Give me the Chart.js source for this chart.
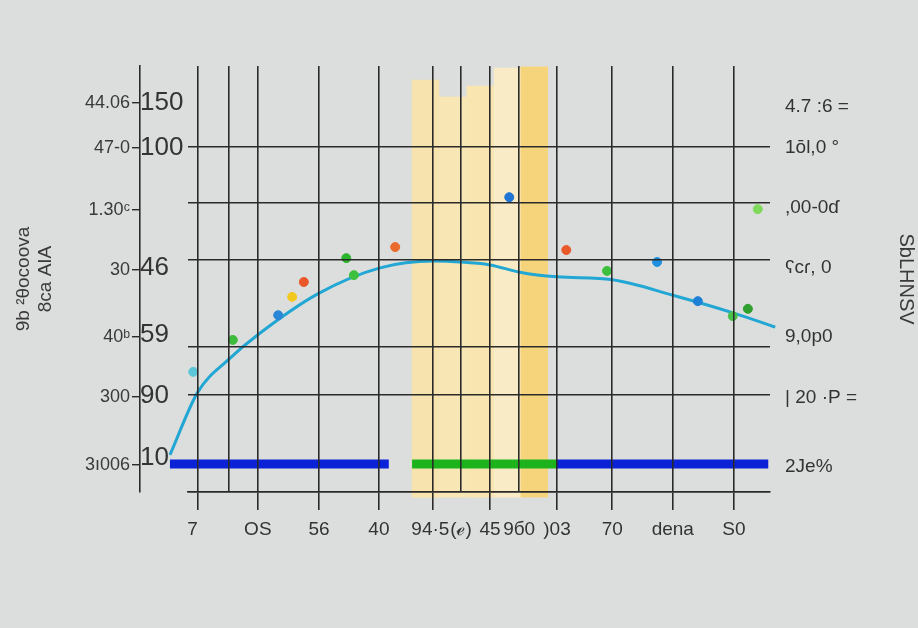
<!DOCTYPE html>
<html>
<head>
<meta charset="utf-8">
<script src="https://cdn.jsdelivr.net/npm/chart.js@4.4.1/dist/chart.umd.min.js"></script>
<style>
  html, body { margin: 0; padding: 0; background: #dcdedd; }
  #wrap { width: 918px; height: 628px; position: relative; }
</style>
</head>
<body>
<div id="wrap"><canvas id="chart"></canvas></div>
<script>
// grid / tick positions (value units, x 0-100, y 0-100)
const xGrid = [1.7, 7.0, 12.0, 22.5, 32.8, 42.1, 46.9, 51.9, 56.9, 63.4, 72.9, 83.3, 93.8];
const xLabels = ['7  ', '', 'OS', '56', '40', '94·5 ', '(ℯ)', '45', '9б0', ')03', '70', 'dena', 'S0'];
const xTickMarks = [1, 0, 1, 1, 1, 1, 0, 1, 0, 1, 1, 1, 1];
const yGrid = [0, 22.8, 34.0, 54.5, 67.8, 81.0];

const yOuterTicks = [91.3, 80.8, 66.2, 52.1, 36.4, 22.3, 6.3];
const yOuterLabels = ['44.06', '47-0', '1.30ᶜ', '30', '40ᵇ', '300', '3ı006'];
const yInnerTicks = [91.3, 80.8, 52.6, 36.9, 22.5, 8.0];
const yInnerLabels = ['150', '100', '46', '59', '90', '10'];
const yRightTicks = [90.4, 80.8, 66.7, 52.6, 36.4, 22.1, 5.9];
const yRightLabels = ['4.7 :6 =', '1ōl,0 °', ',00-0ɗ', 'ʕcɾ, 0', '9,0p0', '| 20 ·P =', '2Je%'];

const leftTitle = ['9b ²θocoova', '8ca AIA'];
const rightTitle = 'SbLHNSV';

// yellow band columns
const bandX = [40.8, 45.5, 50.2, 54.9, 59.5];
const bandTop = [96.7, 92.7, 95.3, 99.5, 99.8];
const bandBottom = -1.2;
const bandColors = ['#f7e3ad', '#f8e6b5', '#f8e5b0', '#f9ebc5', '#f6d47c'];

// cyan curve
const curveX = [-3.1, 1.7, 6.9, 12.0, 22.3, 33.0, 42.1, 46.7, 51.9, 57.0, 63.4, 72.9, 83.3, 93.8, 100.9];
const curveY = [8.7, 23.5, 31.0, 36.9, 46.5, 52.6, 54.2, 54.0, 53.3, 51.6, 50.5, 49.8, 46.2, 42.0, 38.7];

// thick baseline segments
const segStart = [-3.1, 38.5, 63.4];
const segEnd = [34.5, 63.4, 99.7];
const segLevel = 6.6;
const segColors = ['#0b22d6', '#1db31d', '#0b22d6'];

// scattered dots
const dotX = [0.9, 7.7, 15.5, 17.9, 19.9, 27.2, 28.5, 35.6, 55.2, 65.0, 72.0, 80.6, 87.6, 93.6, 96.2, 97.9];
const dotY = [28.2, 35.7, 41.5, 45.8, 49.3, 54.9, 50.9, 57.5, 69.2, 56.8, 51.9, 54.0, 44.8, 41.3, 43.0, 66.4];
const dotColors = ['#5cc6d8', '#3dbb3d', '#2a86d6', '#f2c81e', '#e9572b', '#2db42d', '#3fbf3f', '#ea6a2d',
                   '#1f74d4', '#e95a2b', '#3cbf3c', '#1e90e0', '#1d7fd6', '#49c049', '#2f9f2f', '#7fd95a'];

const ink = '#2a2a2a';
const textCol = '#333333';
const regular = '"Liberation Sans", sans-serif';

const datasets = [
    {
        type: 'scatter',
        data: dotX.map((x, i) => ({ x, y: dotY[i] })),
        pointRadius: 4.5,
        pointBackgroundColor: dotColors,
        pointBorderColor: dotColors,
        showLine: false,
        order: 0
    },
    {
        type: 'line',
        data: curveX.map((x, i) => ({ x, y: curveY[i] })),
        borderColor: '#22a7d4',
        borderWidth: 3,
        pointRadius: 0,
        cubicInterpolationMode: 'monotone',
        fill: false,
        clip: false,
        order: 1
    },
    ...segStart.map((s, i) => ({
        type: 'line',
        data: [{ x: s, y: segLevel }, { x: segEnd[i], y: segLevel }],
        borderColor: segColors[i],
        borderWidth: 9,
        borderCapStyle: 'butt',
        pointRadius: 0,
        fill: false,
        clip: false,
        order: 2
    })),
    {
        type: 'bar',
        data: bandX.map((x, i) => ({ x, y: [bandBottom, bandTop[i]] })),
        backgroundColor: bandColors,
        borderWidth: 0,
        barPercentage: 1,
        categoryPercentage: 1,
        clip: false,
        order: 3
    }
];

const fixTicks = (values) => (axis) => { axis.ticks = values.map(v => ({ value: v })); };

new Chart(document.getElementById('chart'), {
    type: 'line',
    data: { datasets },
    options: {
        responsive: true,
        maintainAspectRatio: false,
        animation: false,
        layout: { padding: { left: 8, top: 66, right: 0, bottom: 40 } },
        plugins: { legend: { display: false }, tooltip: { enabled: false } },
        scales: {
            x: {
                type: 'linear', min: 0, max: 100, offset: false,
                afterBuildTicks: fixTicks(xGrid),
                afterFit: (s) => { s.height = 96; },
                grid: {
                    offset: false,
                    color: ink, lineWidth: 1.6, z: 1, tickLength: 18, tickWidth: 1.6,
                    tickColor: (ctx) => xTickMarks[ctx.index] ? ink : 'rgba(0,0,0,0)'
                },
                border: { display: true, color: ink, width: 1.6, z: 1 },
                ticks: {
                    autoSkip: false, maxRotation: 0, padding: 8, color: textCol,
                    font: { family: regular, size: 19 },
                    callback: (v, i) => xLabels[i]
                }
            },
            y: {
                type: 'linear', min: 0, max: 100, position: 'left', weight: 0,
                afterBuildTicks: fixTicks(yGrid),
                afterFit: (s) => { s.width = 0; },
                grid: { color: ink, lineWidth: 1.6, z: 1, drawTicks: false },
                border: { display: false },
                ticks: { display: false }
            },
            yIn: {
                type: 'linear', min: 0, max: 100, position: 'left', weight: 1,
                afterBuildTicks: fixTicks(yInnerTicks),
                afterFit: (s) => { s.width = 48; },
                grid: { display: false },
                border: { display: false },
                ticks: {
                    crossAlign: 'far', color: textCol,
                    font: { family: regular, size: 26 },
                    callback: (v, i) => yInnerLabels[i]
                }
            },
            yOut: {
                type: 'linear', min: 0, max: 100, position: 'left', weight: 2,
                afterBuildTicks: fixTicks(yOuterTicks),
                afterFit: (s) => { s.width = 132; },
                grid: { display: true, drawOnChartArea: false, tickLength: 8, color: ink, lineWidth: 1.4 },
                border: { display: true, color: ink, width: 1.6 },
                ticks: {
                    padding: 2, color: '#3a3a3a',
                    font: { family: regular, size: 18 },
                    callback: (v, i) => yOuterLabels[i]
                },
                title: {
                    display: true, text: leftTitle, color: '#3a3a3a',
                    font: { family: regular, size: 19 }, padding: { top: 4, bottom: 0 }
                }
            },
            yR: {
                type: 'linear', min: 0, max: 100, position: 'right',
                afterBuildTicks: fixTicks(yRightTicks),
                afterFit: (s) => { s.width = 148; },
                grid: { display: false },
                border: { display: false },
                ticks: {
                    padding: 7, color: textCol,
                    font: { family: regular, size: 19 },
                    callback: (v, i) => yRightLabels[i]
                },
                title: {
                    display: true, text: rightTitle, color: '#3a3a3a',
                    font: { family: regular, size: 20 }, padding: { top: 0, bottom: 20 }
                }
            }
        }
    }
});
</script>
</body>
</html>
